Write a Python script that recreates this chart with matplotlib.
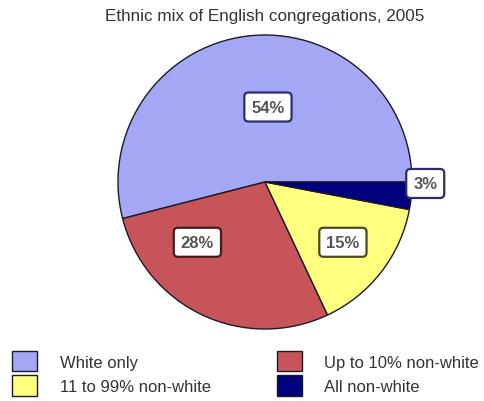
import matplotlib
matplotlib.use("Agg")
import matplotlib.pyplot as plt

plt.rcParams["font.family"] = ["Liberation Sans", "DejaVu Sans"]

labels = ["White only", "Up to 10% non-white", "11 to 99% non-white", "All non-white"]
shares = [54, 28, 15, 3]
colours = ["#a4a8f4", "#c75459", "#ffff80", "#00007f"]
edge_colours = ["#2a2f6a", "#4a1a1a", "#4a4a1a", "#2a2f6a"]
# label box positions in pie-radius units (centre = 0,0)
label_pos = [(0.02, 0.51), (-0.46, -0.41), (0.53, -0.41), (1.09, -0.01)]

W, H = 485, 402
cx, cy, r = 265, 183, 147

fig = plt.figure(figsize=(W / 100, H / 100), dpi=100)
ax = fig.add_axes([0, 0, 1, 1])
ax.axis("off")

wedges, _ = ax.pie(
    shares, colors=colours, startangle=0, counterclock=True, radius=1,
    wedgeprops={"edgecolor": "#1a1a2a", "linewidth": 1.0},
)
ax.set_xlim((0 - cx) / r, (W - cx) / r)
ax.set_ylim((cy - H) / r, cy / r)
ax.set_aspect("equal")

for v, (x, y), ec in zip(shares, label_pos, edge_colours):
    ax.text(x, y, f"{v}%", ha="center", va="center", fontsize=12, color="#555555",
            fontweight="bold",
            bbox=dict(boxstyle="round,pad=0.42,rounding_size=0.25", fc="white",
                      ec=ec, lw=1.6))

fig.text(cx / W, 1 - 17 / H, "Ethnic mix of English congregations, 2005",
         ha="center", va="center", fontsize=12.3, color="#333333")

order = [0, 2, 1, 3]
leg = ax.legend([wedges[i] for i in order], [labels[i] for i in order],
                ncol=2, frameon=False, fontsize=12,
                loc="upper left", bbox_to_anchor=(12 / W, 1 - 352 / H),
                bbox_transform=fig.transFigure, borderaxespad=0,
                handlelength=1.5, handleheight=1.5, handletextpad=1.35,
                columnspacing=3.96, labelspacing=0.24, borderpad=0)
for t in leg.get_texts():
    t.set_color("#333333")

fig.savefig("out.png", dpi=100)
